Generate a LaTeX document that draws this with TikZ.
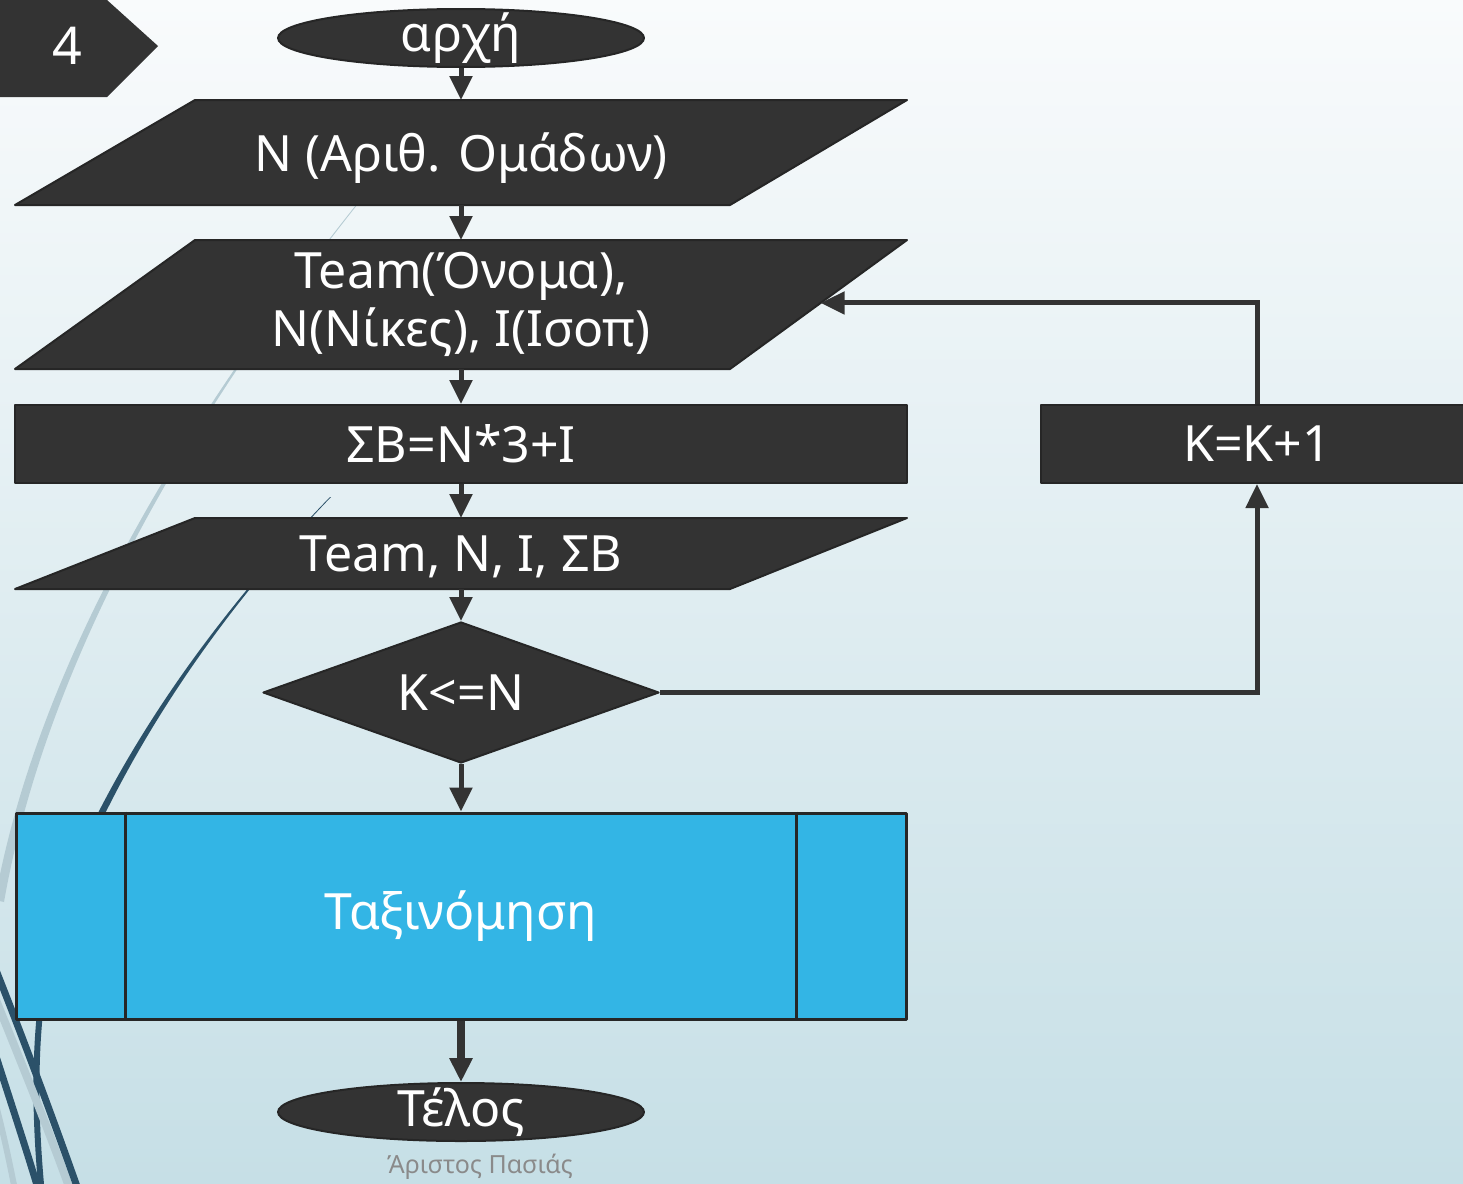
\documentclass[tikz,border=0pt]{standalone}
\usepackage{fontspec}
\setmainfont{Noto Sans}
\usetikzlibrary{shapes.geometric,arrows.meta,calc}
\definecolor{nodefill}{HTML}{333333}
\definecolor{nodeline}{HTML}{262626}
\definecolor{procblue}{HTML}{33B5E5}
\definecolor{bgtop}{HTML}{F9FBFC}
\definecolor{bgbot}{HTML}{C6DFE6}
\definecolor{wisplight}{HTML}{B5CBD3}
\definecolor{wispdark}{HTML}{2B5169}
\definecolor{footgray}{HTML}{8A8A8A}
\pgfdeclarelayer{back}
\pgfdeclarelayer{shapes}
\pgfsetlayers{back,shapes,main}
\begin{document}
\begin{tikzpicture}[x=1pt,y=-1pt,
  txt/.style={text=white,font=\fontsize{50}{58}\selectfont},
  ghost/.style={rectangle, inner sep=0pt, outer sep=0pt, txt},
  shapefill/.style={fill=nodefill, draw=nodeline, line width=2pt, line join=round},
  inlabel/.style={label={[txt, inner sep=0pt]center:#1}},
  terminal/.style={ellipse, shapefill, minimum width=366pt, minimum height=58pt, inner sep=0pt, inlabel={#1}},
  procbox/.style={rectangle, shapefill, inner sep=0pt, txt},
  decision/.style={diamond, shapefill, minimum width=396pt, minimum height=141pt, inner sep=0pt, inlabel={#1}},
  flow/.style={draw=nodefill, line width=5pt, -{Triangle[length=24pt,width=22pt]}},
  wispL/.style={fill=wisplight, draw=none},
  wispD/.style={draw=wispdark, line cap=round},
]
\clip (0,0) rectangle (1463,1183);

% ---------- background and wisps ----------
\begin{pgfonlayer}{back}
\shade[top color=bgtop, bottom color=bgbot] (0,0) rectangle (1463,1183);
% light wisp
\fill[wispL] (360,200) .. controls (200,400) and (40,650) .. (-5,900)
  -- (4,902) .. controls (48,651) and (201,401) .. (361,200) -- cycle;
% dark wisp
\fill[wispdark] (330,497) .. controls (230,600) and (140,720) .. (80,850)
  -- (87,852) .. controls (145,722) and (231,601) .. (331,497) -- cycle;
\draw[wispD, line width=6pt] (83,851) .. controls (40,940) and (28,1050) .. (42,1195);
% bottom-left strands
\draw[draw=wisplight, line width=8pt] (-8,990) .. controls (20,1060) and (45,1120) .. (72,1195);
\draw[draw=wisplight, line width=6pt] (-4,1105) .. controls (5,1140) and (10,1165) .. (16,1195);
\draw[wispD, line width=7pt] (-12,950) .. controls (20,1030) and (50,1110) .. (80,1195);
\draw[wispD, line width=7pt] (-6,1050) .. controls (10,1100) and (25,1145) .. (40,1195);
\end{pgfonlayer}

% ---------- nodes ----------
\node[ghost, font=\fontsize{52}{60}\selectfont] (tag) at (67,46) {4};
\node[terminal={αρχή}] (start) at (461,38) {};
\node[ghost, minimum width=892pt, minimum height=105pt, text depth=0pt] (p1) at (461,152.5) {N (Αριθ. Ομάδων)};
\node[ghost, minimum width=892pt, minimum height=129pt, align=center] (p2) at (461,304.5) {Team(Όνομα),\\N(Νίκες), I(Ισοπ)};
\node[procbox, minimum width=892pt, minimum height=78pt] (sb) at (461,444) {ΣΒ=N*3+I};
\node[ghost, minimum width=892pt, minimum height=71pt, text depth=0pt] (p3) at (461,553.5) {Team, N, I, ΣΒ};
\node[decision={K<=N}] (dec) at (461,692.5) {};
\node[procbox, fill=procblue, draw=nodeline, line width=3pt, minimum width=890pt, minimum height=206pt] (proc) at (461,916) {Ταξινόμηση};
\node[terminal={Τέλος}] (end) at (461,1112) {};
\node[procbox, minimum width=432pt, minimum height=78pt] (kb) at (1257,444) {K=K+1};
\node[text=footgray, font=\fontsize{25}{30}\selectfont] (foot) at (480,1167) {Άριστος Πασιάς};

% ---------- shapes behind the texts ----------
\begin{pgfonlayer}{shapes}
\fill[nodefill] (0,0) -- (107,0) -- (158,46) -- (107,97) -- (0,97) -- cycle;
\draw[shapefill] ([xshift=180pt]p1.north west) -- (p1.north east) -- ([xshift=-177pt]p1.south east) -- (p1.south west) -- cycle;
\draw[shapefill] ([xshift=180pt]p2.north west) -- (p2.north east) -- ([xshift=-177pt]p2.south east) -- (p2.south west) -- cycle;
\draw[shapefill] ([xshift=180pt]p3.north west) -- (p3.north east) -- ([xshift=-177pt]p3.south east) -- (p3.south west) -- cycle;
\end{pgfonlayer}
\draw[nodeline, line width=3pt] ([xshift=111pt]proc.north west) -- ([xshift=111pt]proc.south west);
\draw[nodeline, line width=3pt] ([xshift=-111pt]proc.north east) -- ([xshift=-111pt]proc.south east);

\coordinate (p2r) at ($(p2.north east)!0.488!([xshift=-177pt]p2.south east)$);

% ---------- connectors ----------
\draw[flow] (start.south) -- (p1.north);
\draw[flow] (p1.south) -- (p2.north);
\draw[flow] (p2.south) -- (sb.north);
\draw[flow] (sb.south) -- (p3.north);
\draw[flow] (p3.south) -- (dec.north);
\draw[flow] (dec.south) -- (proc.north);
\draw[flow, line width=8pt] (proc.south) -- (end.north);
\draw[flow] (dec.east) -| (kb.south);
\draw[flow] (kb.north) |- (p2r);
\end{tikzpicture}
\end{document}
